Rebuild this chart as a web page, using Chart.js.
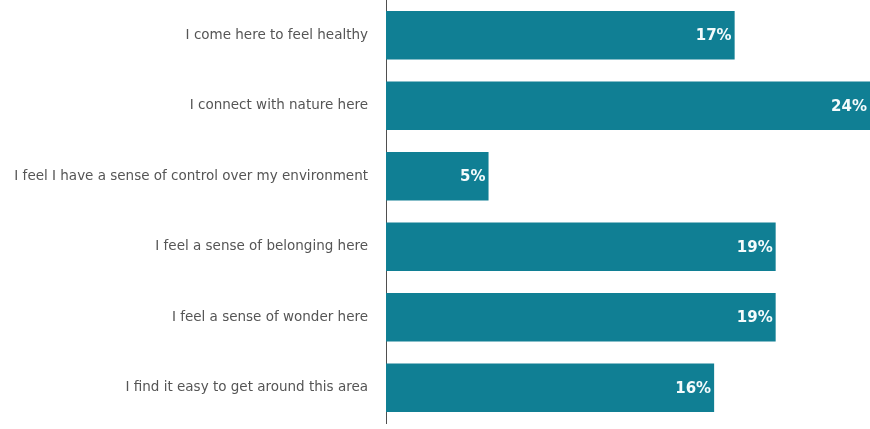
<!DOCTYPE html>
<html>
<head>
<meta charset="utf-8">
<script src="https://cdn.jsdelivr.net/npm/chart.js@4.4.1/dist/chart.umd.min.js"></script>
<style>
  html, body { margin: 0; padding: 0; background: #ffffff; }
  #wrap { width: 870px; height: 429px; position: relative; }
</style>
</head>
<body>
<div id="wrap"><canvas id="chart" width="870" height="429"></canvas></div>
<script>
// Survey statements and share of respondents (%)
const statements = [
  "I come here to feel healthy",
  "I connect with nature here",
  "I feel I have a sense of control over my environment",
  "I feel a sense of belonging here",
  "I feel a sense of wonder here",
  "I find it easy to get around this area"
];
const shares = [17, 24, 5, 19, 19, 16];
const axisMax = 23.6;

const barColor = "#107f94";

// Writes each bar's value just inside its right end
const valueLabels = {
  id: "valueLabels",
  afterDatasetsDraw(chart) {
    const ctx = chart.ctx;
    const area = chart.chartArea;
    const meta = chart.getDatasetMeta(0);
    ctx.save();
    ctx.font = "bold 15px 'DejaVu Sans', Arial, sans-serif";
    ctx.fillStyle = "#f4fbfc";
    ctx.textAlign = "right";
    ctx.textBaseline = "middle";
    meta.data.forEach((bar, i) => {
      const end = Math.min(bar.x, area.right);
      ctx.fillText(Math.round(shares[i]) + "%", end - 3, bar.y + 1);
    });
    ctx.restore();
  }
};

new Chart(document.getElementById("chart"), {
  type: "bar",
  data: {
    labels: statements,
    datasets: [{
      data: shares,
      backgroundColor: barColor,
      borderWidth: 0,
      barPercentage: 0.69,
      categoryPercentage: 1.0,
      clip: 0
    }]
  },
  options: {
    indexAxis: "y",
    responsive: false,
    animation: false,
    layout: { padding: { top: 0, right: 0, bottom: 6, left: 0 } },
    plugins: {
      legend: { display: false },
      tooltip: { enabled: false }
    },
    scales: {
      x: {
        display: false,
        min: 0,
        max: axisMax
      },
      y: {
        afterFit(scale) {
          scale.width = 386;
          scale.paddingTop = 0;
          scale.paddingBottom = 0;
        },
        grid: { display: false, drawTicks: false },
        border: { display: true, color: "#4f4f4f", width: 1 },
        ticks: {
          padding: 18,
          color: "#555555",
          font: { family: "'DejaVu Sans', Arial, sans-serif", size: 13.5 }
        }
      }
    }
  },
  plugins: [valueLabels]
});
</script>
</body>
</html>
